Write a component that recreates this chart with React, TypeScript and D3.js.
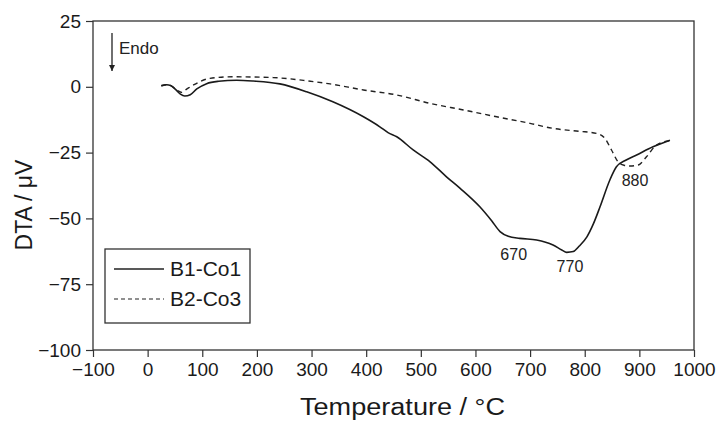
import React, { useRef, useEffect } from 'react';
import * as d3 from 'd3';

// B1-Co1 (solid)
const tempB1 = [25, 35, 42, 52, 60, 68, 78, 90, 108, 130, 163, 193, 242, 291, 339, 395, 425, 440, 456, 486, 517, 547, 572, 608, 630, 645, 660, 681, 712, 742, 758, 767, 779, 790, 804, 816, 828, 846, 858, 875, 895, 925, 956];
const dtaB1 = [0.3, 0.8, 0.5, -1.2, -2.8, -3.5, -3, -0.8, 1.2, 2.1, 2.5, 2.2, 1.1, -1.9, -5.7, -11.4, -15.2, -17.4, -19, -24, -28.5, -34.2, -38.6, -45.6, -51, -55, -56.8, -57.6, -58.2, -60.1, -62, -62.9, -62.6, -60.5, -57, -52, -45.6, -35.4, -30.4, -27.9, -25.9, -22.8, -20.3];

// B2-Co3 (dashed)
const tempB2 = [25, 35, 44, 55, 62, 72, 84, 114, 157, 230, 291, 334, 395, 456, 517, 578, 639, 700, 742, 790, 822, 837, 849, 861, 872, 883, 898, 913, 929, 940, 956];
const dtaB2 = [0.5, 0.8, 0.3, -1.4, -2.1, -0.8, 0.7, 3.2, 3.8, 3.5, 2.3, 1.1, -1.2, -3.1, -6.3, -8.8, -11.4, -13.9, -15.8, -16.9, -17.7, -19.6, -24, -28.5, -29.8, -30.1, -29.7, -26.6, -22.5, -21.2, -20.5];

const xTicks = [-100, 0, 100, 200, 300, 400, 500, 600, 700, 800, 900, 1000];
const yTicks = [25, 0, -25, -50, -75, -100];

const peakLabels = ['670', '770', '880'];
const peakT = [670, 773, 892];
const peakV = [-65.8, -70.4, -37.6];

const legendNames = ['B1-Co1', 'B2-Co3'];

const W = 719;
const H = 421;
const font = '"Liberation Sans", Arial, Helvetica, sans-serif';

const App = () => {
  const svgRef = useRef<SVGSVGElement>(null);

  useEffect(() => {
    const svg = d3.select(svgRef.current);
    svg.selectAll('*').remove();

    const x = d3.scaleLinear().domain([-100, 1000]).range([93, 694]);
    const y = d3.scaleLinear().domain([-100, 25]).range([350, 21]);
    const fmt = (d: any) => String(d).replace('-', '\u2212');

    // frame
    svg.append('rect')
      .attr('x', 93).attr('y', 21)
      .attr('width', 601).attr('height', 329)
      .attr('fill', 'none').attr('stroke', '#333').attr('stroke-width', 1.3);

    // x axis
    const gx = svg.append('g').attr('transform', 'translate(0,350)');
    gx.call(d3.axisBottom(x).tickValues(d3.range(-50, 1000, 100)).tickSize(4).tickFormat(() => ''));
    gx.call(d3.axisBottom(x).tickValues(xTicks).tickSize(7).tickPadding(6).tickFormat(fmt) as any);
    gx.select('.domain').remove();

    const gy = svg.append('g').attr('transform', 'translate(93,0)');
    gy.call(d3.axisLeft(y).tickValues(d3.range(-87.5, 25, 25)).tickSize(4).tickFormat(() => ''));
    gy.call(d3.axisLeft(y).tickValues(yTicks).tickSize(7).tickPadding(5).tickFormat(fmt) as any);
    gy.select('.domain').remove();

    svg.selectAll('.tick line').attr('stroke', '#333').attr('stroke-width', 1.2);
    svg.selectAll('.tick text')
      .attr('font-family', font).attr('font-size', 19).attr('fill', '#1a1a1a');

    // axis titles
    svg.append('text')
      .attr('x', 300).attr('y', 415)
      .attr('font-family', font).attr('font-size', 23).attr('fill', '#1a1a1a')
      .attr('textLength', 205).attr('lengthAdjust', 'spacingAndGlyphs')
      .text('Temperature / °C');
    svg.append('text')
      .attr('transform', 'translate(32,205) rotate(-90)')
      .attr('text-anchor', 'middle')
      .attr('font-family', font).attr('font-size', 23).attr('fill', '#1a1a1a')
      .text('DTA / \u03bcV');

    // curves
    const line = d3.line<[number, number]>()
      .x(d => x(d[0])).y(d => y(d[1]))
      .curve(d3.curveMonotoneX);

    svg.append('path')
      .attr('d', line(tempB2.map((t, i) => [t, dtaB2[i]]) as any))
      .attr('fill', 'none').attr('stroke', '#222').attr('stroke-width', 1.4)
      .attr('stroke-dasharray', '5,4');
    svg.append('path')
      .attr('d', line(tempB1.map((t, i) => [t, dtaB1[i]]) as any))
      .attr('fill', 'none').attr('stroke', '#1a1a1a').attr('stroke-width', 1.6);

    // peak labels
    svg.selectAll('.peak').data(peakLabels).enter().append('text')
      .attr('x', (d, i) => x(peakT[i])).attr('y', (d, i) => y(peakV[i]))
      .attr('text-anchor', 'middle')
      .attr('font-family', font).attr('font-size', 16).attr('fill', '#222')
      .text(d => d);

    // Endo arrow
    svg.append('defs').append('marker')
      .attr('id', 'arr').attr('viewBox', '0 0 10 10')
      .attr('refX', 10).attr('refY', 5)
      .attr('markerWidth', 10).attr('markerHeight', 6)
      .attr('markerUnits', 'userSpaceOnUse')
      .attr('orient', 'auto')
      .append('path').attr('d', 'M0,0L10,5L0,10Z').attr('fill', '#222');
    svg.append('line')
      .attr('x1', 112).attr('x2', 112).attr('y1', 33).attr('y2', 71)
      .attr('stroke', '#222').attr('stroke-width', 1.3)
      .attr('marker-end', 'url(#arr)');
    svg.append('text')
      .attr('x', 119).attr('y', 54)
      .attr('font-family', font).attr('font-size', 17).attr('fill', '#222')
      .text('Endo');

    // legend
    svg.append('rect')
      .attr('x', 105).attr('y', 249).attr('width', 145).attr('height', 74)
      .attr('fill', 'white').attr('stroke', '#333').attr('stroke-width', 1.3);
    const lg = svg.selectAll('.lg').data(legendNames).enter().append('g')
      .attr('transform', (d, i) => `translate(0,${269 + i * 30})`);
    lg.append('line')
      .attr('x1', 114).attr('x2', 164)
      .attr('stroke', '#222').attr('stroke-width', (d, i) => (i === 0 ? 1.4 : 1.2))
      .attr('stroke-dasharray', (d, i) => (i === 0 ? null : '4,3'));
    lg.append('text')
      .attr('x', 170).attr('y', 7)
      .attr('font-family', font).attr('font-size', 21).attr('fill', '#1a1a1a')
      .text(d => d);
  }, []);

  return (
    <svg ref={svgRef} width={W} height={H}
      style={{ position: 'absolute', left: 0, top: 0, background: 'white' }} />
  );
};

export default App;
